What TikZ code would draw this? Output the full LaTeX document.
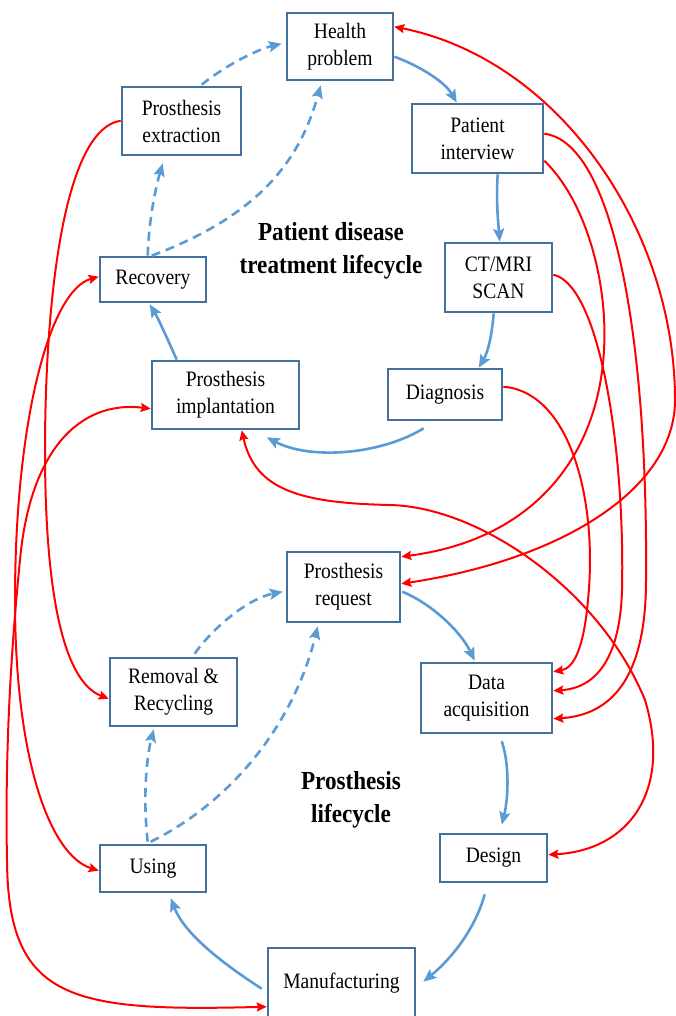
\documentclass[tikz,border=0pt]{standalone}
\usepackage{fontspec}
\setmainfont{Liberation Serif}[FakeStretch=0.89]
\usetikzlibrary{arrows.meta,calc}
\definecolor{boxline}{HTML}{41719C}
\definecolor{flowblue}{HTML}{5B9BD5}
\definecolor{linkred}{HTML}{FF0000}
\begin{document}
\begin{tikzpicture}[x=1pt,y=-1pt,
  box/.style={draw=boxline,line width=2.6pt,fill=white,inner sep=0pt,align=center,
    font=\fontsize{22}{27}\selectfont},
  flow/.style={draw=flowblue,line width=2.6pt,-{Stealth[length=13pt,width=11pt,inset=2.5pt]}},
  dflow/.style={flow,dash pattern=on 9pt off 6pt},
  link/.style={draw=linkred,line width=2pt,-{Stealth[length=10pt,width=9pt,inset=1.5pt]}},
  blink/.style={link,{Stealth[length=10pt,width=9pt,inset=1.5pt]}-{Stealth[length=10pt,width=9pt,inset=1.5pt]}},
  lctitle/.style={font=\bfseries\fontsize{26}{33}\selectfont,align=center}]
\useasboundingbox (0,0) rectangle (676,1016);

% boxes
\node[box,minimum width=106pt,minimum height=67pt] (hp)   at (340,46.5)  {Health\\problem};
\node[box,minimum width=119pt,minimum height=68pt] (ext)  at (181.5,121) {Prosthesis\\extraction};
\node[box,minimum width=131pt,minimum height=69pt] (pi)   at (477.5,138.5) {Patient\\interview};
\node[box,minimum width=106pt,minimum height=45pt] (rec)  at (153,279.5) {Recovery};
\node[box,minimum width=107pt,minimum height=69pt] (ct)   at (498.5,277.5) {CT/MRI\\SCAN};
\node[box,minimum width=147pt,minimum height=68pt] (imp)  at (225.5,395) {Prosthesis\\implantation};
\node[box,minimum width=114pt,minimum height=51pt] (diag) at (445,394.5) {Diagnosis};
\node[box,minimum width=113pt,minimum height=70pt] (pr)   at (343.5,587) {Prosthesis\\request};
\node[box,minimum width=127pt,minimum height=68pt] (rr)   at (173.5,692) {Removal \&\\Recycling};
\node[box,minimum width=131pt,minimum height=70pt] (da)   at (486.5,698) {Data\\acquisition};
\node[box,minimum width=106pt,minimum height=47pt] (use)  at (153,868.5) {Using};
\node[box,minimum width=107pt,minimum height=48pt] (des)  at (493.5,858) {Design};
\node[box,minimum width=147pt,minimum height=70pt] (man)  at (341.5,983) {Manufacturing};

% titles
\node[lctitle] (t1) at (331,251) {Patient disease\\treatment lifecycle};
\node[lctitle] (t2) at (351,800) {Prosthesis\\lifecycle};

% blue flow: patient lifecycle
\draw[flow] ($(hp.north east)+(0,45)$) .. controls (420,66) and (445,82) .. ($(pi.north west)+(46,0)$);
\draw[flow] ($(pi.south west)+(87,0)$) .. controls (496,200) and (498,220) .. ($(ct.north west)+(56,0)$);
\draw[flow] ($(ct.south west)+(50,0)$) .. controls (492,335) and (488,352) .. ($(diag.north west)+(92,0)$);
\draw[flow] ($(diag.south west)+(37,7)$) .. controls (380,455) and (310,460) .. ($(imp.south west)+(116,7)$);
\draw[flow] ($(imp.north west)+(26,0)$) .. controls (168,340) and (158,318) .. ($(rec.south west)+(51,1)$);
\draw[dflow] ($(rec.north west)+(49,0)$) .. controls (149,220) and (155,190) .. ($(ext.south west)+(42,7)$);
\draw[dflow] ($(rec.north west)+(53,0)$) .. controls (260,215) and (300,160) .. ($(hp.south west)+(35,4)$);
\draw[dflow] ($(ext.north west)+(81,-1)$) .. controls (222,68) and (255,50) .. ($(hp.north west)+(-4,32)$);

% blue flow: prosthesis lifecycle
\draw[flow] ($(pr.north east)+(1,41)$) .. controls (430,603) and (460,630) .. ($(da.north west)+(55,-1)$);
\draw[flow] ($(da.south west)+(82,7)$) .. controls (510,765) and (508,800) .. ($(des.north west)+(63,-8)$);
\draw[flow] ($(des.south west)+(46,11)$) .. controls (475,930) and (450,960) .. ($(man.north east)+(7,35)$);
\draw[flow] ($(man.north west)+(-5,42)$) .. controls (225,965) and (185,935) .. ($(use.south west)+(72,5)$);
\draw[dflow] ($(use.north west)+(49,-2)$) .. controls (143,800) and (146,760) .. ($(rr.south west)+(45,2)$);
\draw[dflow] ($(use.north west)+(52,-2)$) .. controls (235,800) and (295,720) .. ($(pr.south west)+(32,3)$);
\draw[dflow] ($(rr.north west)+(86,-3)$) .. controls (215,625) and (250,598) .. ($(pr.north west)+(-3,41)$);

% red links
\draw[blink] ($(pr.north east)+(0,33)$) .. controls (560,560) and (675,490) .. (675,400)
   .. controls (675,230) and (560,60) .. ($(hp.north east)+(0,15)$);
\draw[link] ($(pi.north east)+(0,58)$) .. controls (585,200) and (608,280) .. (604,350)
   .. controls (598,460) and (530,540) .. ($(pr.north east)+(0,6)$);
\draw[link] ($(pi.north east)+(0,31)$) .. controls (612,142) and (648,330) .. (646,580)
   .. controls (646,680) and (610,715) .. ($(da.north east)+(0,57)$);
\draw[link] ($(ct.north east)+(0,33)$) .. controls (600,285) and (625,450) .. (622,590)
   .. controls (620,660) and (595,688) .. ($(da.north east)+(0,29)$);
\draw[link] ($(diag.north east)+(0,19)$) .. controls (570,392) and (598,500) .. (588,600)
   .. controls (584,645) and (575,668) .. ($(da.north east)+(0,10)$);
\draw[blink] ($(imp.south west)+(91,0)$) .. controls (255,490) and (300,503) .. (390,505)
   .. controls (480,507) and (600,590) .. (645,700)
   .. controls (672,790) and (630,850) .. ($(des.north east)+(0,22)$);
\draw[link] ($(ext.north west)+(0,35)$) .. controls (60,130) and (45,320) .. (45,450)
   .. controls (45,600) and (65,682) .. ($(rr.north west)+(0,42)$);
\draw[blink] ($(rec.north west)+(0,21)$) .. controls (50,290) and (15,420) .. (15,600)
   .. controls (15,760) and (50,855) .. ($(use.north west)+(0,27)$);
\draw[blink] ($(imp.north west)+(0,49)$) .. controls (80,400) and (30,450) .. (20,560)
   .. controls (10,660) and (5,760) .. (7,860)
   .. controls (8,1000) and (70,1012) .. ($(man.north west)+(0,60)$);
\end{tikzpicture}
\end{document}
